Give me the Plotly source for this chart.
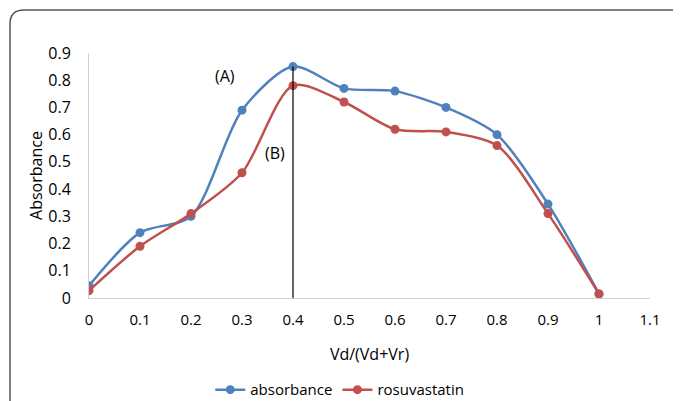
import plotly.graph_objects as go

x_vals = [0, 0.1, 0.2, 0.3, 0.4, 0.5, 0.6, 0.7, 0.8, 0.9, 1.0]
absorbance = [0.045, 0.24, 0.30, 0.69, 0.85, 0.77, 0.76, 0.70, 0.60, 0.345, 0.015]
rosuvastatin = [0.027, 0.19, 0.31, 0.46, 0.78, 0.72, 0.62, 0.61, 0.56, 0.31, 0.015]
x_ticks = [0, 0.1, 0.2, 0.3, 0.4, 0.5, 0.6, 0.7, 0.8, 0.9, 1.0, 1.1]
x_tick_labels = ["0", "0.1", "0.2", "0.3", "0.4", "0.5", "0.6", "0.7", "0.8", "0.9", "1", "1.1"]
y_ticks = [0, 0.1, 0.2, 0.3, 0.4, 0.5, 0.6, 0.7, 0.8, 0.9]
y_tick_labels = ["0", "0.1", "0.2", "0.3", "0.4", "0.5", "0.6", "0.7", "0.8", "0.9"]

font = "Open Sans, Noto Sans, sans-serif"

fig = go.Figure()
fig.add_trace(go.Scatter(x=x_vals, y=absorbance, name="absorbance", mode="lines+markers",
                         line=dict(color="#4F81BD", width=2.5, shape="spline", smoothing=0.8),
                         marker=dict(size=9, color="#4F81BD")))
fig.add_trace(go.Scatter(x=x_vals, y=rosuvastatin, name="rosuvastatin", mode="lines+markers",
                         line=dict(color="#C0504D", width=2.5, shape="spline", smoothing=0.8),
                         marker=dict(size=9, color="#C0504D")))

# vertical marker line at x = 0.4
fig.add_shape(type="line", xref="x", yref="y", x0=0.4, x1=0.4, y0=0, y1=absorbance[4],
              line=dict(color="black", width=1.2))

fig.add_annotation(x=0.267, y=0.816, text="(A)", showarrow=False, xref="x", yref="y",
                   font=dict(size=16, color="#000", family=font))
fig.add_annotation(x=0.365, y=0.533, text="(B)", showarrow=False, xref="x", yref="y",
                   font=dict(size=16, color="#000", family=font))

# rounded frame (page has an 8px body margin, figure is sized to fill the rest)
L, T = (10 - 89) / 561, (298 - 10) / 245
R, B = (700 - 89) / 561, (298 - 420) / 245
rx, ry = 14 / 561, 14 / 245
fig.add_shape(type="path", xref="paper", yref="paper",
              path=f"M {L},{B} L {L},{T-ry} Q {L},{T} {L+rx},{T} L {R},{T}",
              line=dict(color="#555", width=1.5))

fig.update_layout(
    width=673, height=393,
    margin=dict(l=81, r=31, t=45, b=103, autoexpand=False),
    paper_bgcolor="white", plot_bgcolor="white",
    font=dict(family=font, size=15, color="#000"),
    showlegend=True,
    legend=dict(orientation="h", x=0.447, xanchor="center", y=-0.375, yanchor="middle",
                font=dict(size=15)),
    xaxis=dict(range=[0, 1.1], tickvals=x_ticks, ticktext=x_tick_labels, showgrid=False,
               zeroline=False, showline=True, linecolor="#D0D0D0", linewidth=1, ticks="",
               automargin=False, ticklabelstandoff=8, tickfont=dict(size=15),
               title=dict(text="Vd/(Vd+Vr)", font=dict(size=16), standoff=20)),
    yaxis=dict(range=[0, 0.9], tickvals=y_ticks, ticktext=y_tick_labels, showgrid=False,
               zeroline=False, showline=True, linecolor="#D0D0D0", linewidth=1, ticks="",
               automargin=False, ticklabelstandoff=14, tickfont=dict(size=16),
               title=dict(text="Absorbance", font=dict(size=16), standoff=1)),
)

fig.write_html("out.html")
